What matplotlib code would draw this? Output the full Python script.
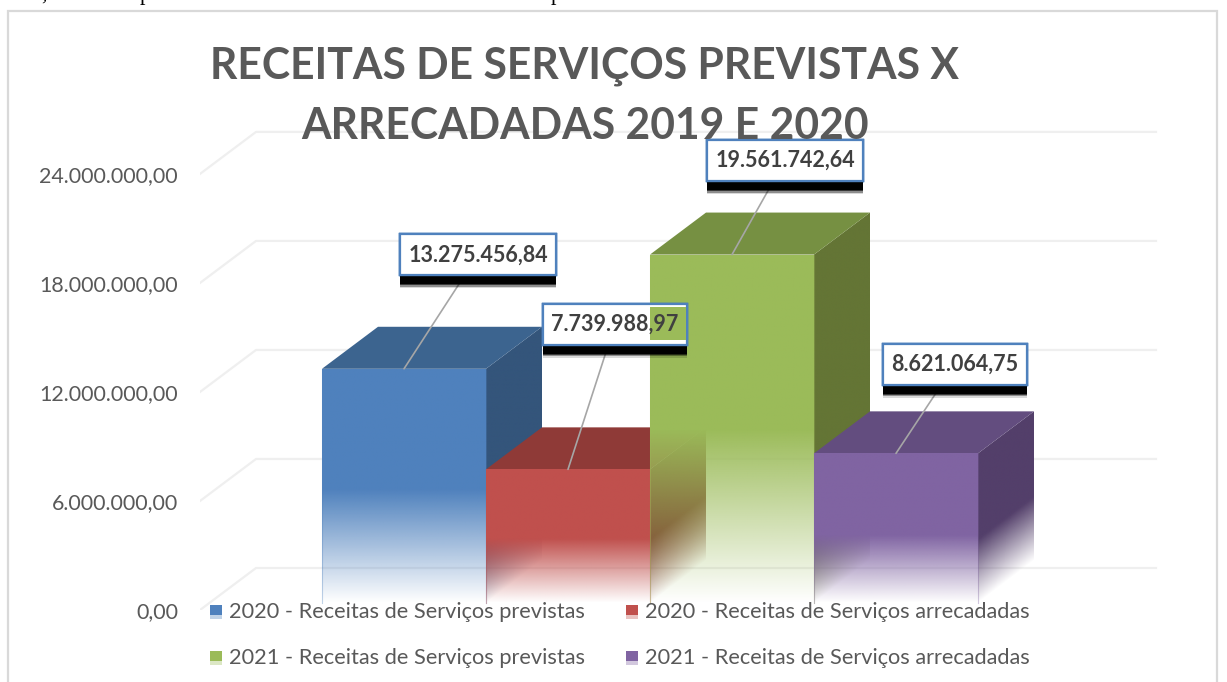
import numpy as np
from matplotlib import pyplot as plt
from matplotlib import patheffects as pe
from matplotlib.colors import to_rgb
from matplotlib.legend_handler import HandlerBase
from matplotlib.patches import Polygon, Patch, Rectangle

series = ['2020 - Receitas de Serviços previstas', '2020 - Receitas de Serviços arrecadadas',
          '2021 - Receitas de Serviços previstas', '2021 - Receitas de Serviços arrecadadas']
values = [13275456.84, 7739988.97, 19561742.64, 8621064.75]
value_labels = ['13.275.456,84', '7.739.988,97', '19.561.742,64', '8.621.064,75']
ticks = [0, 6000000, 12000000, 18000000, 24000000]
tick_labels = ['0,00', '6.000.000,00', '12.000.000,00', '18.000.000,00', '24.000.000,00']

front = ['#4F81BD', '#C0504D', '#9BBB59', '#8064A2']
top = ['#3C648F', '#8F3A37', '#769042', '#634D7F']
side = ['#34557B', '#7A2F2D', '#647535', '#533F6A']
fade_start = [6600000, 3900000, 9900000, 4100000]
label_offset = [(74, 114), (47, 145), (53, 94), (59, 89)]

W, H = 1227, 682
PX_X = 164.0        # one bar width in pixels
PX_Y = 18.17e-6     # pixels per unit of value
DX = 56 / PX_X      # 3d depth
DY = 42 / PX_Y
SIDE_FADE = 3900000
FADE_END = 400000
GREY = '#595959'

fig = plt.figure(figsize=(W / 100, H / 100), dpi=100)
ax = fig.add_axes([200 / W, (H - 610) / H, (W - 200) / W, 610 / H])
ax.set_yticks(ticks)
ax.set_yticklabels(tick_labels, fontfamily='Lato', fontsize=15.4, color=GREY)
ax.tick_params(axis='y', length=0, pad=15.8)
ax.set_xticks([])
for s in ax.spines.values():
    s.set_visible(False)
ax.patch.set_alpha(0)


def fade(verts, color, start, shear, z):
    # face that goes transparent towards the floor, as a clipped image
    verts = np.array(verts)
    x0, x1 = verts[:, 0].min(), verts[:, 0].max()
    y0, y1 = verts[:, 1].min(), verts[:, 1].max()
    xs = np.linspace(x0, x1, 60)
    ys = np.linspace(y0, y1, 400)
    xx, yy = np.meshgrid(xs, ys)
    a = (yy - shear * (xx - x0) - FADE_END) / (start - FADE_END)
    img = np.zeros((400, 60, 4))
    img[..., :3] = to_rgb(color)
    img[..., 3] = np.clip(a, 0, 1)
    im = ax.imshow(img, extent=(x0, x1, y0, y1), origin='lower', aspect='auto',
                   interpolation='bilinear', zorder=z)
    im.set_clip_path(Polygon(verts, transform=ax.transData))


# back wall and left wall grid
for t in ticks:
    ax.plot([-122 / PX_X, -66 / PX_X, 834 / PX_X], [t, t + DY, t + DY], color='#EFEFEF', lw=1.6, zorder=1)

# bars, back to front
for i, v in enumerate(values):
    z = 3 + i
    fade([(i + 1, 0), (i + 1 + DX, DY), (i + 1 + DX, v + DY), (i + 1, v)], side[i], SIDE_FADE, DY / DX, z)
    ax.add_patch(Polygon([(i, v), (i + DX, v + DY), (i + 1 + DX, v + DY), (i + 1, v)], fc=top[i], ec='none', zorder=z))
    fade([(i, 0), (i + 1, 0), (i + 1, v), (i, v)], front[i], fade_start[i], 0, z)
    ax.plot([i, i, i + 1, i + 1], [FADE_END, v, v, FADE_END], color=front[i], lw=0.8, alpha=0.35, zorder=z)
ax.set_xlim(-122 / PX_X, (W - 322) / PX_X)
ax.set_ylim(0, 610 / PX_Y)

# data labels with leader lines and hard black shadow
shadow = [pe.withSimplePatchShadow(offset=(0, -d), shadow_rgbFace='k', alpha=a)
          for d, a in [(9.4, 0.15), (8.4, 0.35), (7.4, 0.6), (6.4, 1)]] + [pe.Normal()]
for i, v in enumerate(values):
    box = ax.annotate(value_labels[i], xy=(i + 0.5, v), xytext=label_offset[i], textcoords='offset pixels',
                      ha='center', va='center', fontsize=15, fontweight='bold', fontfamily='Lato', color='none',
                      bbox=dict(boxstyle='square,pad=0.5', fc='white', ec='#4F81BD', lw=1.6),
                      arrowprops=dict(arrowstyle='-', color='#A6A6A6', lw=1.2, shrinkA=0, shrinkB=0),
                      zorder=10)
    box.get_bbox_patch().set_path_effects(shadow)
    ax.annotate(value_labels[i], xy=(i + 0.5, v), xytext=label_offset[i], textcoords='offset pixels',
                ha='center', va='center', fontsize=15.5, fontweight='bold', fontfamily='Lato', color='#404040',
                zorder=12)
# the green bar shows through the right end of the red label
ax.add_patch(Rectangle((2, 14850000), 36 / PX_X, 1800000, fc=front[2], ec='none', zorder=11))

fig.text(585 / W, 1 - 96 / H, 'RECEITAS DE SERVIÇOS PREVISTAS X\nARRECADADAS 2019 E 2020', ha='center', va='center',
         fontsize=30.7, fontweight='bold', fontfamily='Lato', color=GREY, linespacing=1.6, zorder=20)


class TwoTone(HandlerBase):
    def create_artists(self, legend, orig, xd, yd, w, h, fs, trans):
        c = orig.get_facecolor()
        return [Rectangle((xd, yd + h * 0.3), w, h * 0.7, fc=c, ec='none', transform=trans),
                Rectangle((xd, yd), w, h * 0.3, fc=c, alpha=0.35, ec='none', transform=trans)]


handles = [Patch(fc=c) for c in front]
order = [0, 2, 1, 3]
leg = ax.legend([handles[k] for k in order], [series[k] for k in order], ncol=2, frameon=False,
                handler_map={Patch: TwoTone()}, prop={'family': 'Lato', 'size': 15.7}, labelcolor=GREY,
                loc='upper left', bbox_to_anchor=(210 / W, 1 - 602 / H), bbox_transform=fig.transFigure,
                borderpad=0, borderaxespad=0, handlelength=0.55, handleheight=0.6, handletextpad=0.32,
                columnspacing=1.9, labelspacing=1.2)
leg.set_zorder(15)

# chart frame and the cut off line of text above it
fig.add_artist(Rectangle((8 / W, -0.02), 1209 / W, 1.02 - 11 / H, transform=fig.transFigure,
                         fc='none', ec='#D9D9D9', lw=1.6))
for x, s in [(41, ','), (140, 'p'), (551, 'p')]:
    fig.text(x / W, 1, s, family='Liberation Serif', fontsize=16, color='black', va='baseline')

fig.savefig('out.png', dpi=100)
